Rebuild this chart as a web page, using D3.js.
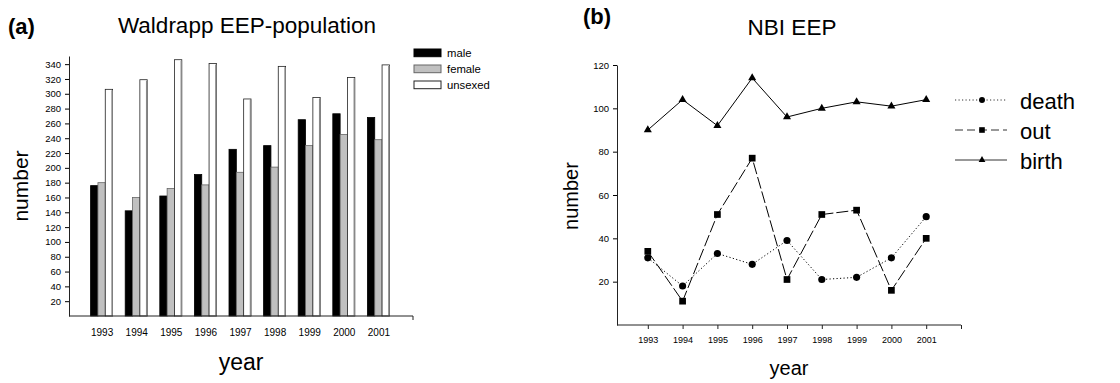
<!DOCTYPE html>
<html>
<head>
<meta charset="utf-8">
<script src="https://cdn.jsdelivr.net/npm/d3@7"></script>
<style>
  body { margin: 0; background: #fff; }
  text { font-family: "Liberation Sans", Arial, sans-serif; fill: #000; }
</style>
</head>
<body>
<svg id="chart" width="1120" height="383"></svg>
<script>
// data
var years = [1993, 1994, 1995, 1996, 1997, 1998, 1999, 2000, 2001];
var male = [176, 142, 162, 191, 225, 230, 265, 273, 268];
var female = [180, 160, 172, 177, 194, 201, 230, 245, 238];
var unsexed = [306, 319, 346, 341, 293, 337, 295, 322, 339];
var barSeries = ["male", "female", "unsexed"];
var ticksA = d3.range(20, 341, 20);

var death = [31, 18, 33, 28, 39, 21, 22, 31, 50];
var out = [34, 11, 51, 77, 21, 51, 53, 16, 40];
var birth = [90, 104, 92, 114, 96, 100, 103, 101, 104];
var lineSeries = ["death", "out", "birth"];
var ticksB = [20, 40, 60, 80, 100, 120];

var svg = d3.select("#chart");

// ---------- panel (a) ----------
var axA = 69; // y axis position
var xA = d3.scaleLinear().domain([1992, 2002]).range([67, 413]);
var yA = d3.scaleLinear().domain([0, 351]).range([316, 56]);
var sub = d3.scaleBand().domain(barSeries).range([-11, 11]);
var barVals = { male: male, female: female, unsexed: unsexed };
var barFill = { male: "#000", female: "#c0c0c0", unsexed: "#fff" };
var barStroke = { male: "#000", female: "#666", unsexed: "#222" };

var gA = svg.append("g");

barSeries.forEach(function (s) {
    gA.append("g").selectAll("rect")
        .data(years)
        .join("rect")
        .attr("x", (d) => xA(d) + sub(s))
        .attr("y", (d, i) => yA(barVals[s][i]))
        .attr("width", sub.bandwidth())
        .attr("height", (d, i) => yA(0) - yA(barVals[s][i]))
        .attr("fill", barFill[s])
        .attr("stroke", barStroke[s])
        .attr("stroke-width", 0.8);
});
// grey shade on right edge of unsexed bars
gA.append("g").selectAll("line")
    .data(years)
    .join("line")
    .attr("x1", (d) => xA(d) + sub("unsexed") + sub.bandwidth() - 0.5)
    .attr("x2", (d) => xA(d) + sub("unsexed") + sub.bandwidth() - 0.5)
    .attr("y1", (d, i) => yA(unsexed[i]) + 1)
    .attr("y2", yA(0))
    .attr("stroke", "#888")
    .attr("stroke-width", 1.5);

var yAxisA = gA.append("g")
    .attr("transform", "translate(" + axA + ",0)")
    .call(d3.axisLeft(yA).tickValues(ticksA).tickSize(4).tickSizeOuter(0).tickPadding(4));
yAxisA.selectAll("text").style("font-size", "9.5px").style("font-family", "Liberation Sans, Arial");
yAxisA.select(".domain").attr("stroke", "#222");

var xAxisA = gA.append("g")
    .attr("transform", "translate(0," + yA(0) + ")")
    .call(d3.axisBottom(xA).tickValues(years).tickSize(0).tickPadding(13).tickFormat(d3.format("d")));
xAxisA.select(".domain").remove();
xAxisA.selectAll("text").style("font-size", "10px").style("font-family", "Liberation Sans, Arial");
gA.append("line")
    .attr("x1", axA).attr("x2", xA(2002))
    .attr("y1", yA(0)).attr("y2", yA(0))
    .attr("stroke", "#222");
gA.append("line")
    .attr("x1", xA(2002)).attr("x2", xA(2002))
    .attr("y1", yA(0)).attr("y2", yA(0) + 4)
    .attr("stroke", "#222");

// legend (a)
var legA = gA.append("g").attr("transform", "translate(414,49)");
barSeries.forEach(function (s, i) {
    legA.append("rect")
        .attr("x", 0).attr("y", i * 16)
        .attr("width", 27).attr("height", 7.7)
        .attr("fill", barFill[s])
        .attr("stroke", barStroke[s]);
    legA.append("text")
        .attr("x", 33).attr("y", i * 16 + 8)
        .style("font-size", "11.3px")
        .text(s);
});

gA.append("text").attr("x", 8).attr("y", 34)
    .style("font-size", "22px").style("font-weight", "bold")
    .text("(a)");
gA.append("text").attr("x", 247).attr("y", 33)
    .attr("text-anchor", "middle")
    .style("font-size", "22.5px")
    .text("Waldrapp EEP-population");
gA.append("text")
    .attr("transform", "translate(28,186) rotate(-90)")
    .attr("text-anchor", "middle")
    .style("font-size", "21px")
    .text("number");
gA.append("text").attr("x", 241).attr("y", 370)
    .attr("text-anchor", "middle")
    .style("font-size", "23px")
    .text("year");

// ---------- panel (b) ----------
var axB = 617;
var xB = d3.scaleLinear().domain([1992, 2002]).range([613, 961]);
var yB = d3.scaleLinear().domain([0, 120]).range([325, 65]);
var lineVals = { death: death, out: out, birth: birth };
var dash = { death: "1.2,2.3", out: "12,3", birth: null };
var sym = { death: d3.symbolCircle, out: d3.symbolSquare, birth: d3.symbolTriangle };
var symSize = { death: 40, out: 45, birth: 28 };

var gB = svg.append("g");

var yAxisB = gB.append("g")
    .attr("transform", "translate(" + axB + ",0)")
    .call(d3.axisLeft(yB).tickValues(ticksB).tickSize(4).tickSizeOuter(0).tickPadding(4));
yAxisB.selectAll("text").style("font-size", "9.5px").style("font-family", "Liberation Sans, Arial");
yAxisB.select(".domain").attr("stroke", "#222");

var xAxisB = gB.append("g")
    .attr("transform", "translate(0," + yB(0) + ")")
    .call(d3.axisBottom(xB).tickValues(years.concat([2002])).tickSize(4).tickPadding(8)
        .tickFormat((d) => d === 2002 ? "" : d));
xAxisB.select(".domain").remove();
xAxisB.selectAll("text").style("font-size", "9px").style("font-family", "Liberation Sans, Arial");
xAxisB.selectAll(".tick line").attr("stroke", "#222");
gB.append("line")
    .attr("x1", axB).attr("x2", xB(2002))
    .attr("y1", yB(0)).attr("y2", yB(0))
    .attr("stroke", "#222");

var line = d3.line()
    .x((d, i) => xB(years[i]))
    .y((d) => yB(d));

lineSeries.forEach(function (s) {
    gB.append("path")
        .datum(lineVals[s])
        .attr("d", line)
        .attr("fill", "none")
        .attr("stroke", "#000")
        .attr("stroke-width", 1)
        .attr("stroke-dasharray", dash[s]);
    gB.append("g").selectAll("path")
        .data(lineVals[s])
        .join("path")
        .attr("transform", (d, i) => "translate(" + xB(years[i]) + "," + yB(d) + ")")
        .attr("d", d3.symbol().type(sym[s]).size(symSize[s]))
        .attr("fill", "#000");
});

// legend (b)
var legB = gB.append("g").attr("transform", "translate(955,100)");
lineSeries.forEach(function (s, i) {
    legB.append("line")
        .attr("x1", 0).attr("x2", 52)
        .attr("y1", i * 30).attr("y2", i * 30)
        .attr("stroke", "#333")
        .attr("stroke-dasharray", s === "out" ? "8,4" : dash[s]);
    legB.append("path")
        .attr("transform", "translate(27," + (i * 30) + ")")
        .attr("d", d3.symbol().type(sym[s]).size(symSize[s] * 0.7))
        .attr("fill", "#000");
    legB.append("text")
        .attr("x", 65).attr("y", i * 30 + 9)
        .style("font-size", "22px")
        .text(s);
});

gB.append("text").attr("x", 583).attr("y", 24)
    .style("font-size", "22px").style("font-weight", "bold")
    .text("(b)");
gB.append("text").attr("x", 792).attr("y", 35)
    .attr("text-anchor", "middle")
    .style("font-size", "22.5px")
    .text("NBI EEP");
gB.append("text")
    .attr("transform", "translate(578,196) rotate(-90)")
    .attr("text-anchor", "middle")
    .style("font-size", "20px")
    .text("number");
gB.append("text").attr("x", 789).attr("y", 375)
    .attr("text-anchor", "middle")
    .style("font-size", "20px")
    .text("year");
</script>
</body>
</html>
